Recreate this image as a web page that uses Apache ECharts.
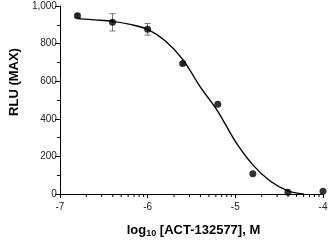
<!DOCTYPE html>
<html><head><meta charset="utf-8">
<script src="https://cdn.jsdelivr.net/npm/echarts@6/dist/echarts.min.js"></script>
<style>html,body{margin:0;padding:0;background:#fff}#c{width:335px;height:243px}</style>
</head><body><div id="c"></div>
<script>
// measured points
const logConc = [-6.8, -6.4, -6.0, -5.6, -5.2, -4.8, -4.4, -4.0];
const rlu = [948, 913, 876, 694, 478, 108, 9, 14];
const rluErr = [8, 46, 31, 8, 0, 0, 0, 0];
// fitted curve
const curveX = [-6.8, -6.6, -6.4, -6.2, -6.0, -5.8, -5.6, -5.4, -5.2, -5.0, -4.8, -4.6, -4.4, -4.22];
const curveY = [933, 926, 918, 902, 876, 815, 716, 570, 440, 280, 155, 68, 17, 0];
// axis ticks
const xTicks = [-7, -6, -5, -4];
const yTicks = [0, 200, 400, 600, 800, 1000];
const minorMultipliers = [2, 3, 4, 5, 6, 7, 8, 9];

const FONT = "'Liberation Sans Narrow', 'Arial Narrow', Arial, sans-serif";
const minorX = [];
for (let d = xTicks[0]; d < xTicks[xTicks.length - 1]; d++) {
  minorMultipliers.forEach(m => minorX.push(d + Math.log10(m)));
}

const chart = echarts.init(document.getElementById('c'), null, {renderer: 'canvas'});
chart.setOption({
  animation: false,
  grid: {left: 42, right: 12, top: 6, bottom: 44},
  xAxis: {
    type: 'value', min: xTicks[0], max: xTicks[xTicks.length - 1], interval: 1,
    axisLine: {onZero: false, lineStyle: {color: '#000', width: 1}},
    axisTick: {length: 4, lineStyle: {color: '#000'}},
    splitLine: {show: false},
    axisLabel: {color: '#222', fontSize: 10, fontFamily: FONT, margin: 8},
    name: '{b|log}{s|10}{b| [ACT-132577], M}',
    nameLocation: 'middle', nameGap: 28,
    nameTextStyle: {
      padding: [0, 0, 0, 4],
      rich: {
        b: {fontSize: 13, fontWeight: 'bold', fontFamily: FONT, color: '#000'},
        s: {fontSize: 9, fontWeight: 'bold', fontFamily: FONT, color: '#000', verticalAlign: 'bottom', padding: [7, 0, 0, 0]}
      }
    }
  },
  yAxis: {
    type: 'value', min: yTicks[0], max: yTicks[yTicks.length - 1], interval: 200,
    axisLine: {show: true, lineStyle: {color: '#000', width: 1}},
    axisTick: {show: true, length: 5, lineStyle: {color: '#000'}},
    minorTick: {show: true, splitNumber: 2, length: 3, lineStyle: {color: '#000'}},
    splitLine: {show: false},
    axisLabel: {color: '#222', fontSize: 10, fontFamily: FONT, margin: 3,
      formatter: v => v.toLocaleString('en-US')},
    name: 'RLU (MAX)', nameLocation: 'middle', nameGap: 34,
    nameTextStyle: {fontSize: 13, fontWeight: 'bold', fontFamily: FONT, color: '#000', padding: [0, 0, 0, 36]}
  },
  series: [
    {
      type: 'custom', silent: true, clip: false,
      data: minorX.map(x => [x]),
      renderItem: (params, api) => {
        const p = api.coord([api.value(0), 0]);
        return {type: 'line', shape: {x1: p[0], y1: p[1], x2: p[0], y2: p[1] + 3},
          style: {stroke: '#000', lineWidth: 1}};
      }
    },
    {
      type: 'line', smooth: 0.35, symbol: 'none',
      data: curveX.map((x, i) => [x, curveY[i]]),
      lineStyle: {color: '#000', width: 1.4}
    },
    {
      type: 'custom', silent: true,
      data: logConc.map((x, i) => [x, rlu[i] - rluErr[i], rlu[i] + rluErr[i]]),
      renderItem: (params, api) => {
        if (api.value(2) - api.value(1) < 1) return null;
        const lo = api.coord([api.value(0), api.value(1)]);
        const hi = api.coord([api.value(0), api.value(2)]);
        const w = 3;
        const st = {stroke: '#777', lineWidth: 1};
        return {type: 'group', children: [
          {type: 'line', shape: {x1: lo[0], y1: lo[1], x2: hi[0], y2: hi[1]}, style: st},
          {type: 'line', shape: {x1: lo[0] - w, y1: lo[1], x2: lo[0] + w, y2: lo[1]}, style: st},
          {type: 'line', shape: {x1: hi[0] - w, y1: hi[1], x2: hi[0] + w, y2: hi[1]}, style: st}
        ]};
      }
    },
    {
      type: 'scatter', symbol: 'circle', symbolSize: 7,
      data: logConc.map((x, i) => [x, rlu[i]]),
      itemStyle: {color: '#000'}
    }
  ]
});
</script></body></html>
